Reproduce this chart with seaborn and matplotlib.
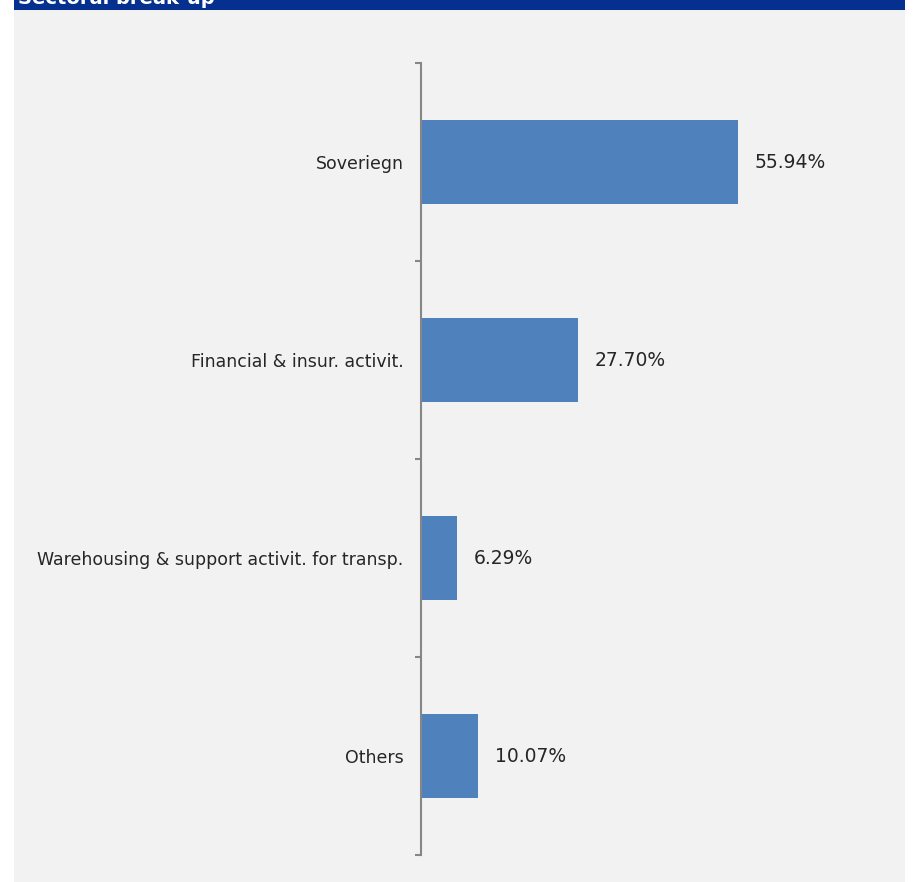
import matplotlib
matplotlib.use("Agg")
import matplotlib.pyplot as plt
import seaborn as sns
import pandas as pd
from matplotlib.patches import Rectangle
from matplotlib.ticker import FixedLocator

categories = ["Soveriegn", "Financial & insur. activit.",
              "Warehousing & support activit. for transp.", "Others"]
values = [55.94, 27.70, 6.29, 10.07]
title = "Sectoral break-up"

df = pd.DataFrame({"category": categories, "value": values})

sns.set_theme(style="white")
plt.rcParams["font.family"] = ["DejaVu Sans"]

W, H = 916, 882
fig = plt.figure(figsize=(W / 100, H / 100), dpi=100)
fig.patch.set_facecolor("white")

# grey panel and blue header
fig.patches.append(Rectangle((14 / W, 0), (905 - 14) / W, (H - 9) / H,
                             transform=fig.transFigure, facecolor="#f2f2f2",
                             edgecolor="none", zorder=-10))
fig.patches.append(Rectangle((14 / W, (H - 10) / H), (905 - 14) / W, 10 / H,
                             transform=fig.transFigure, facecolor="#05308f",
                             edgecolor="none", zorder=-10))
fig.text(18 / W, 1 - 3.5 / H, title, color="white", fontsize=14,
         fontweight="bold", va="baseline", ha="left")

left, right, top, bottom = 421, 890, 63, 855
ax = fig.add_axes([left / W, (H - bottom) / H, (right - left) / W, (bottom - top) / H])
ax.set_facecolor("none")

sns.barplot(data=df, x="value", y="category", orient="h", color="#4f81bd",
            width=84 / 198, saturation=1, linewidth=0, edgecolor="none", ax=ax)

ax.set_xlim(0, (right - left) / 5.667)
ax.set_ylim(3.5, -0.5)
ax.set_xlabel("")
ax.set_ylabel("")
ax.set_xticks([])
for s in ["top", "right", "bottom"]:
    ax.spines[s].set_visible(False)
ax.spines["left"].set_color("#868686")
ax.spines["left"].set_linewidth(1.5)

ax.yaxis.set_minor_locator(FixedLocator([-0.5, 0.5, 1.5, 2.5, 3.5]))
ax.tick_params(axis="y", which="major", length=0, pad=12.5,
               labelsize=12.5, labelcolor="#262626")
ax.tick_params(axis="y", which="minor", left=True, length=4, width=1.5,
               color="#868686")

for c in ax.containers:
    ax.bar_label(c, labels=[f"{v:.2f}%" for v in values], padding=12,
                 fontsize=13.5, color="#262626")

fig.savefig("out.png", dpi=100, facecolor="white")
